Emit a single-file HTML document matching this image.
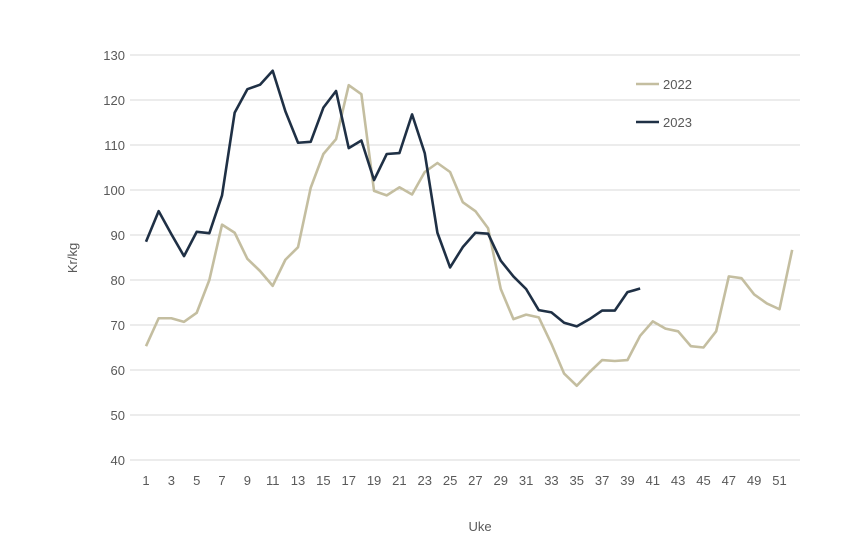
<!DOCTYPE html>
<html><head><meta charset="utf-8"><style>
body{margin:0;background:#fff;}
svg text{font-family:"Liberation Sans",sans-serif;fill:#595959;font-size:13px;}
</style></head><body>
<svg width="868" height="548" id="c"></svg>
<script>
const weeks=[];for(let i=1;i<=52;i++)weeks.push(i);
const s2022=[65.3,71.5,71.5,70.7,72.7,80,92.3,90.5,84.7,82,78.7,84.5,87.3,100.5,108,111.3,123.3,121.3,99.8,98.8,100.6,99,104,106,104,97.3,95.3,91.5,78,71.3,72.3,71.7,65.8,59.2,56.5,59.5,62.2,62,62.2,67.6,70.8,69.2,68.6,65.3,65,68.6,80.8,80.4,76.8,74.8,73.5,86.7];
const s2023=[88.5,95.3,90.2,85.3,90.7,90.4,98.8,117.2,122.4,123.4,126.5,117.5,110.5,110.7,118.3,122,109.3,111,102.2,108,108.2,116.8,108.2,90.5,82.8,87.3,90.5,90.3,84.3,80.8,78,73.3,72.8,70.5,69.7,71.3,73.2,73.2,77.3,78.1];
const yTicks=[40,50,60,70,80,90,100,110,120,130];
const xTickLabels=[1,3,5,7,9,11,13,15,17,19,21,23,25,27,29,31,33,35,37,39,41,43,45,47,49,51];
const svg=document.getElementById('c');const NS='http://www.w3.org/2000/svg';
const x=w=>146+(w-1)*12.67;
const y=v=>460-(v-40)*4.5;
function mk(t,a,p){const e=document.createElementNS(NS,t);for(const k in a)e.setAttribute(k,a[k]);(p||svg).appendChild(e);return e;}
yTicks.forEach(v=>{
 const l=mk('line',{x1:130,x2:800,y1:y(v),y2:y(v),stroke:'#d9d9d9','stroke-width':1});
 
 
 const t=mk('text',{x:125,y:y(v)+5,'text-anchor':'end'});t.textContent=v;
 
 
});
xTickLabels.forEach(w=>{
 const t=mk('text',{x:x(w),y:485,'text-anchor':'middle'});t.textContent=w;
 
 
});
const yt=mk('text',{x:0,y:0,transform:'translate(77,258) rotate(-90)','text-anchor':'middle'});yt.textContent='Kr/kg';


const xt=mk('text',{x:480,y:531,'text-anchor':'middle'});xt.textContent='Uke';


function line(d,c,n){const p=mk('polyline',{points:d.map((v,i)=>x(weeks[i])+','+y(v)).join(' '),fill:'none',stroke:c,'stroke-width':2.6,'stroke-linejoin':'round'});
 
 }
line(s2022,'#c4bea0','series-2022');
line(s2023,'#1f3045','series-2023');
[['2022','#c4bea0',84],['2023','#1f3045',122]].forEach(([n,c,yy])=>{
 const g=mk('g',{});
 
 
 mk('line',{x1:636,x2:659,y1:yy,y2:yy,stroke:c,'stroke-width':2.6},g);
 const t=mk('text',{x:663,y:yy+5},g);t.textContent=n;
});
</script>
</body></html>
